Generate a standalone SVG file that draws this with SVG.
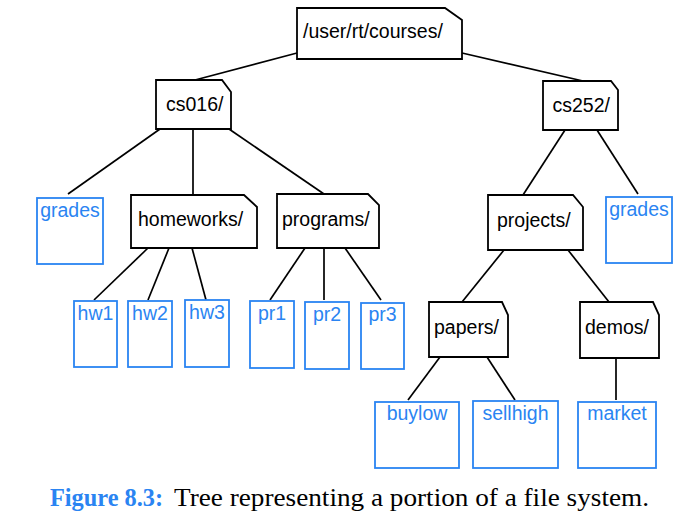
<svg xmlns="http://www.w3.org/2000/svg" width="688" height="525" viewBox="0 0 688 525">
<style>
.dir{fill:#fff;stroke:#000;stroke-width:1.8;stroke-linejoin:miter}
.file{fill:#fff;stroke:#2a84f2;stroke-width:1.8}
.dt{font-family:"Liberation Sans",Arial,sans-serif;font-size:19.5px;fill:#000}
.ft{font-family:"Liberation Sans",Arial,sans-serif;font-size:19.5px;fill:#2a84f2;text-anchor:middle}
.edge{stroke:#000;stroke-width:1.7;fill:none}
.cap{font-family:"Liberation Serif","Times New Roman",serif;font-size:26px}
</style>
<rect width="688" height="525" fill="#fff"/>
<g id="connectors">
<line class="edge" x1="297" y1="53" x2="195" y2="80"/>
<line class="edge" x1="462" y1="53" x2="583" y2="81"/>
<line class="edge" x1="160" y1="129" x2="68" y2="194"/>
<line class="edge" x1="193" y1="129" x2="193" y2="195"/>
<line class="edge" x1="229" y1="129" x2="324" y2="194"/>
<line class="edge" x1="148" y1="248" x2="94" y2="300"/>
<line class="edge" x1="169" y1="248" x2="148" y2="300"/>
<line class="edge" x1="192" y1="248" x2="206" y2="300"/>
<line class="edge" x1="305" y1="248" x2="270" y2="300"/>
<line class="edge" x1="324" y1="248" x2="324" y2="300"/>
<line class="edge" x1="345" y1="248" x2="381" y2="300"/>
<line class="edge" x1="565" y1="130" x2="523" y2="195"/>
<line class="edge" x1="597" y1="130" x2="638" y2="194"/>
<line class="edge" x1="504" y1="250" x2="462" y2="302"/>
<line class="edge" x1="568" y1="250" x2="609" y2="302"/>
<line class="edge" x1="440" y1="357" x2="408" y2="400"/>
<line class="edge" x1="487" y1="357" x2="515" y2="400"/>
<line class="edge" x1="616" y1="358" x2="616" y2="400"/>
</g>
<g id="root"><path class="dir" d="M297 8H445L462 20V59H297Z"/><text class="dt" x="303" y="38">/user/rt/courses/</text></g>
<g id="cs016"><path class="dir" d="M156 80H222L231 92V129H156Z"/><text class="dt" x="166" y="111">cs016/</text></g>
<g id="cs252"><path class="dir" d="M543 81H611L618 90V130H543Z"/><text class="dt" x="552.5" y="111.5">cs252/</text></g>
<g id="homeworks"><path class="dir" d="M131 195H244L257 207V248H131Z"/><text class="dt" x="138" y="226">homeworks/</text></g>
<g id="programs"><path class="dir" d="M277 194H368L379 205V248H277Z"/><text class="dt" x="282" y="226">programs/</text></g>
<g id="projects"><path class="dir" d="M488 195H573L583 207V250H488Z"/><text class="dt" x="497" y="227">projects/</text></g>
<g id="papers"><path class="dir" d="M429 302H502L508 315V357H429Z"/><text class="dt" x="434" y="334">papers/</text></g>
<g id="demos"><path class="dir" d="M580 302H653L659 315V358H580Z"/><text class="dt" x="585" y="334">demos/</text></g>
<g id="grades1"><rect class="file" x="37" y="198" width="66" height="66"/><text class="ft" x="70" y="217">grades</text></g>
<g id="hw1"><rect class="file" x="74" y="301" width="43" height="66"/><text class="ft" x="95.5" y="320">hw1</text></g>
<g id="hw2"><rect class="file" x="128" y="301" width="44" height="66"/><text class="ft" x="150" y="320">hw2</text></g>
<g id="hw3"><rect class="file" x="185" y="300" width="44" height="67"/><text class="ft" x="207" y="319">hw3</text></g>
<g id="pr1"><rect class="file" x="250" y="301" width="44" height="67"/><text class="ft" x="272" y="320">pr1</text></g>
<g id="pr2"><rect class="file" x="305" y="302" width="44" height="67"/><text class="ft" x="327" y="321">pr2</text></g>
<g id="pr3"><rect class="file" x="361" y="303" width="43" height="66"/><text class="ft" x="382.5" y="321">pr3</text></g>
<g id="grades2"><rect class="file" x="606" y="197" width="66" height="66"/><text class="ft" x="639" y="216">grades</text></g>
<g id="buylow"><rect class="file" x="375" y="402" width="84" height="66"/><text class="ft" x="417" y="420">buylow</text></g>
<g id="sellhigh"><rect class="file" x="473" y="401" width="85" height="67"/><text class="ft" x="515.5" y="420">sellhigh</text></g>
<g id="market"><rect class="file" x="578" y="402" width="78" height="66"/><text class="ft" x="617" y="420">market</text></g>
<text class="cap" x="50" y="506" font-weight="bold" fill="#2a84f2" textLength="113" lengthAdjust="spacingAndGlyphs">Figure 8.3:</text>
<text class="cap" x="174" y="506" fill="#000" textLength="475" lengthAdjust="spacingAndGlyphs">Tree representing a portion of a file system.</text>
</svg>
